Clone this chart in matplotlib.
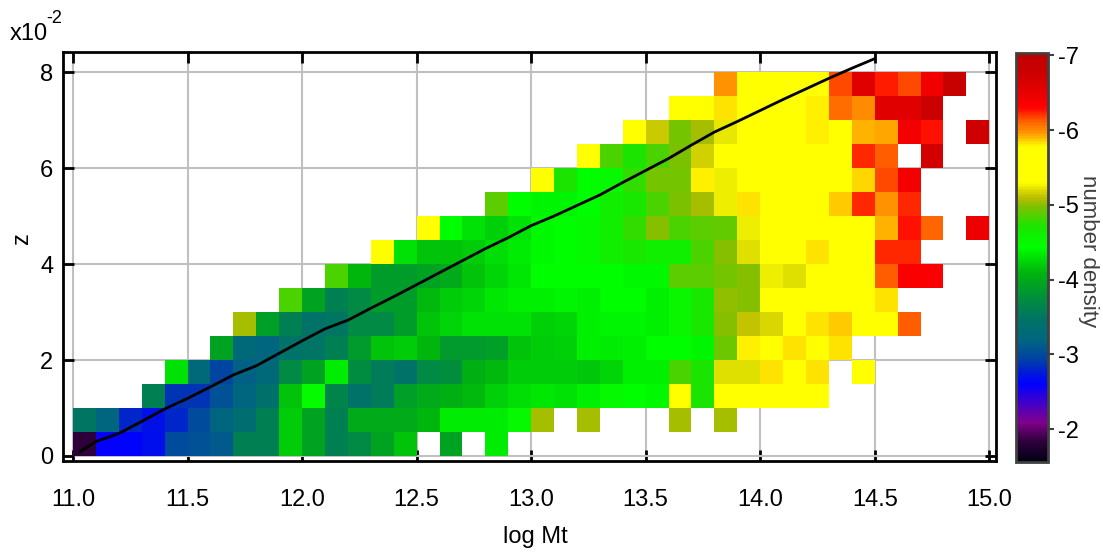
import matplotlib.pyplot as plt
import numpy as np
from matplotlib.colors import LinearSegmentedColormap

plt.rcParams['font.family'] = ['Liberation Sans', 'DejaVu Sans']

n = np.nan

# bin edges
logM_edges = np.round(np.arange(11.0, 15.0001, 0.1), 2)
z_edges = np.arange(0.0, 8.0001, 0.5)   # x10^-2

# log number density per (z row, log Mt column); rows from z=0 upwards
row00 = [-1.83, -2.6, -2.62, -2.68, -3.0, -3.05, -3.1, -3.6, -3.6, -4.2, -3.95, -3.6, -3.7, -3.95, -4.15, n, -3.95, n, -4.35, n] + [n]*20
row01 = [-3.5, -3.2, -2.8, -2.7, -2.8, -3.0, -3.2, -3.35, -3.6, -4.2, -3.95, -3.6, -4.0, -4.0, -4.0, -4.1, -4.35, -4.35, -4.35, -4.5,
         -5.05, n, -5.05, n, n, n, -5.05, n, -5.05, n] + [n]*10
row02 = [n, n, n, -3.6, -2.87, -2.87, -3.05, -3.2, -3.4, -4.15, -4.48, -3.65, -3.45, -3.55, -3.9, -4.0, -4.05, -4.12, -4.22, -4.28,
         -4.32, -4.3, -4.38, -4.5, -4.44, -4.42, -5.5, -4.72, -5.5, -5.55, -5.5, -5.5, -5.5, n, n, n, n, n, n, n]
row03 = [n, n, n, n, -4.3, -3.25, -2.95, -3.15, -3.25, -3.7, -3.95, -4.35, -3.72, -3.55, -3.45, -3.7, -3.75, -4.05, -4.12, -4.2,
         -4.2, -4.2, -4.18, -4.25, -4.38, -4.38, -4.85, -4.72, -5.2, -5.2, -5.82, -5.5, -5.82, n, -5.5, n, n, n, n, n]
row04 = [n, n, n, n, n, n, -3.95, -3.25, -3.2, -3.45, -3.47, -3.6, -3.85, -4.15, -4.2, -4.1, -3.85, -3.85, -3.9, -4.15,
         -4.2, -4.22, -4.38, -4.35, -4.38, -4.44, -4.44, -4.4, -4.93, -5.8, -5.5, -5.82, -5.5, -5.82, n, n, n, n, n, n]
row05 = [n, n, n, n, n, n, n, -5.05, -3.9, -3.6, -3.46, -3.5, -3.7, -3.7, -3.88, -4.15, -4.25, -4.3, -4.3, -4.3,
         -4.22, -4.25, -4.38, -4.4, -4.4, -4.38, -4.55, -4.7, -5.0, -5.12, -5.18, -5.5, -5.82, -5.86, -5.5, -5.55, -6.12, n, n, n]
row06 = [n, n, n, n, n, n, n, n, n, -4.85, -3.95, -3.6, -3.7, -3.88, -3.88, -4.12, -4.2, -4.25, -4.32, -4.38,
         -4.38, -4.4, -4.38, -4.44, -4.44, -4.38, -4.55, -4.7, -5.02, -5.0, -5.5, -5.45, -5.5, -5.55, -5.5, -5.83, n, n, n, n]
row07 = [n]*11 + [-4.85, -4.1, -3.88, -3.88, -3.95, -4.0, -4.15, -4.25, -4.32,
         -4.44, -4.44, -4.44, -4.44, -4.42, -4.42, -4.88, -4.88, -4.95, -5.0, -5.25, -5.2, -5.5, -5.5, -5.5, -6.12, -6.33, -6.33, n, n]
row08 = [n]*13 + [-5.5, -4.3, -4.15, -4.15, -4.2, -4.28, -4.35,
         -4.42, -4.44, -4.5, -4.6, -4.7, -4.6, -4.6, -4.85, -5.0, -5.2, -5.5, -5.5, -5.82, -5.5, -5.5, -6.22, -6.22, n, n, n]
row09 = [n]*15 + [-5.5, -4.46, -4.3, -4.22, -4.3,
         -4.42, -4.44, -4.5, -4.6, -4.78, -4.98, -4.85, -4.88, -4.9, -5.25, -5.5, -5.5, -5.5, -5.5, -5.5, -5.9, -6.28, -6.1, n, -6.45]
row10 = [n]*18 + [-4.88, -4.46,
         -4.4, -4.4, -4.44, -4.6, -4.7, -4.85, -4.97, -5.05, -5.25, -5.82, -5.5, -5.5, -5.5, -5.86, -6.22, -5.98, -6.23, n, n, n]
row11 = [n]*20 + [-5.5, -4.72, -4.44, -4.5, -4.78, -4.95, -4.95, -5.8, -5.25, -5.5, -5.5, -5.5, -5.5, -5.5, -5.84, -6.17, -6.4, n, n, n]
row12 = [n]*22 + [-5.5, -4.85, -4.72, -4.85, -4.96, -5.17, -5.5, -5.5, -5.5, -5.5, -5.5, -5.5, -6.23, -6.12, n, -6.7, n, n]
row13 = [n]*24 + [-5.5, -5.13, -4.95, -5.05, -5.23, -5.5, -5.5, -5.5, -5.8, -5.5, -5.91, -5.94, -6.4, -6.28, n, -6.72]
row14 = [n]*26 + [-5.5, -5.5, -5.82, -5.5, -5.5, -5.5, -5.8, -6.07, -5.99, -6.58, -6.58, -6.76, n, n]
row15 = [n]*28 + [-5.97, -5.5, -5.5, -5.5, -5.5, -6.17, -6.58, -6.25, -6.17, -6.42, -6.85, n]

density = np.array([row00, row01, row02, row03, row04, row05, row06, row07,
                    row08, row09, row10, row11, row12, row13, row14, row15])

# mean z curve
line_logM = [11.03, 11.1, 11.2, 11.3, 11.4, 11.5, 11.6, 11.7, 11.8, 11.9, 12.0, 12.1, 12.2, 12.3, 12.4, 12.5, 12.6, 12.7,
             12.8, 12.9, 13.0, 13.1, 13.2, 13.3, 13.4, 13.5, 13.6, 13.7, 13.8, 13.9, 14.0, 14.1, 14.2, 14.3, 14.4, 14.5]
line_z = [0.09, 0.3, 0.47, 0.72, 0.98, 1.2, 1.44, 1.69, 1.88, 2.14, 2.4, 2.65, 2.83, 3.08, 3.32, 3.57, 3.82, 4.07,
          4.32, 4.55, 4.8, 5.0, 5.22, 5.44, 5.7, 5.95, 6.2, 6.48, 6.75, 6.97, 7.2, 7.43, 7.65, 7.87, 8.08, 8.28]

# colour scale
vmin, vmax = -7.03, -1.56
cm_vals = [-7.03, -6.76, -6.31, -6.14, -5.96, -5.78, -5.3, -5.11, -4.98, -4.71, -4.44, -4.08, -3.73, -3.46, -3.19,
           -2.92, -2.75, -2.6, -2.3, -2.08, -1.85, -1.56]
cm_cols = [(0.75, 0, 0), (0.8, 0, 0), (1, 0, 0), (1, 0.35, 0), (1, 0.6, 0), (1, 1, 0), (1, 1, 0), (0.75, 0.75, 0),
           (0.5, 0.75, 0), (0.1, 0.9, 0), (0, 1, 0), (0, 0.7, 0.05), (0, 0.55, 0.25), (0, 0.45, 0.4), (0, 0.4, 0.5),
           (0, 0.25, 0.65), (0, 0.1, 0.85), (0, 0, 1), (0.3, 0, 0.75), (0.5, 0, 0.55), (0.2, 0, 0.25), (0, 0, 0.08)]
cmap = LinearSegmentedColormap.from_list(
    'nd', [((v - vmin) / (vmax - vmin), c) for v, c in zip(cm_vals, cm_cols)])

fig = plt.figure(figsize=(11.03, 5.52), dpi=100)
ax = fig.add_axes([0.0571, 0.1649, 0.846, 0.741])
cax = fig.add_axes([0.921, 0.163, 0.029, 0.741])

ax.set_axisbelow(True)
ax.grid(True, color='#c0c0c0', linewidth=1.5)
mesh = ax.pcolormesh(logM_edges, z_edges, np.ma.masked_invalid(density), cmap=cmap, vmin=vmin, vmax=vmax)
ax.plot(line_logM, line_z, color='black', linewidth=2)

ax.set_xlim(10.956, 15.03)
ax.set_ylim(-0.104, 8.42)
ax.set_xticks(np.arange(11.0, 15.01, 0.5))
ax.set_xticklabels(['%.1f' % t for t in np.arange(11.0, 15.01, 0.5)])
ax.set_yticks([0, 2, 4, 6, 8])
ax.tick_params(direction='in', length=8, width=2, top=True, right=True, labelsize=17)
ax.tick_params(axis='x', pad=20)
ax.tick_params(axis='y', pad=7)
for s in ax.spines.values():
    s.set_linewidth(2)

ax.set_xlabel('log Mt', fontsize=17)
ax.xaxis.set_label_coords(0.506, -0.158)
ax.set_ylabel('z', fontsize=17)
ax.yaxis.set_label_coords(-0.032, 0.545)
fig.text(0.009, 0.928, 'x10', fontsize=17)
fig.text(0.042, 0.958, '-2', fontsize=13)

cb = fig.colorbar(mesh, cax=cax)
cb.ax.invert_yaxis()
cb.set_ticks([-7, -6, -5, -4, -3, -2])
cb.ax.set_yticklabels(['-7', '-6', '-5', '-4', '-3', '-2'])
cb.ax.tick_params(labelsize=17, length=4, width=1.5, color='#404040')
cb.outline.set_linewidth(2)
cb.outline.set_edgecolor('#404040')
fig.text(1088 / 1103, 0.545, 'number density', fontsize=16, rotation=270,
         ha='center', va='center', color='#404040')

fig.savefig('out.png', dpi=100)
